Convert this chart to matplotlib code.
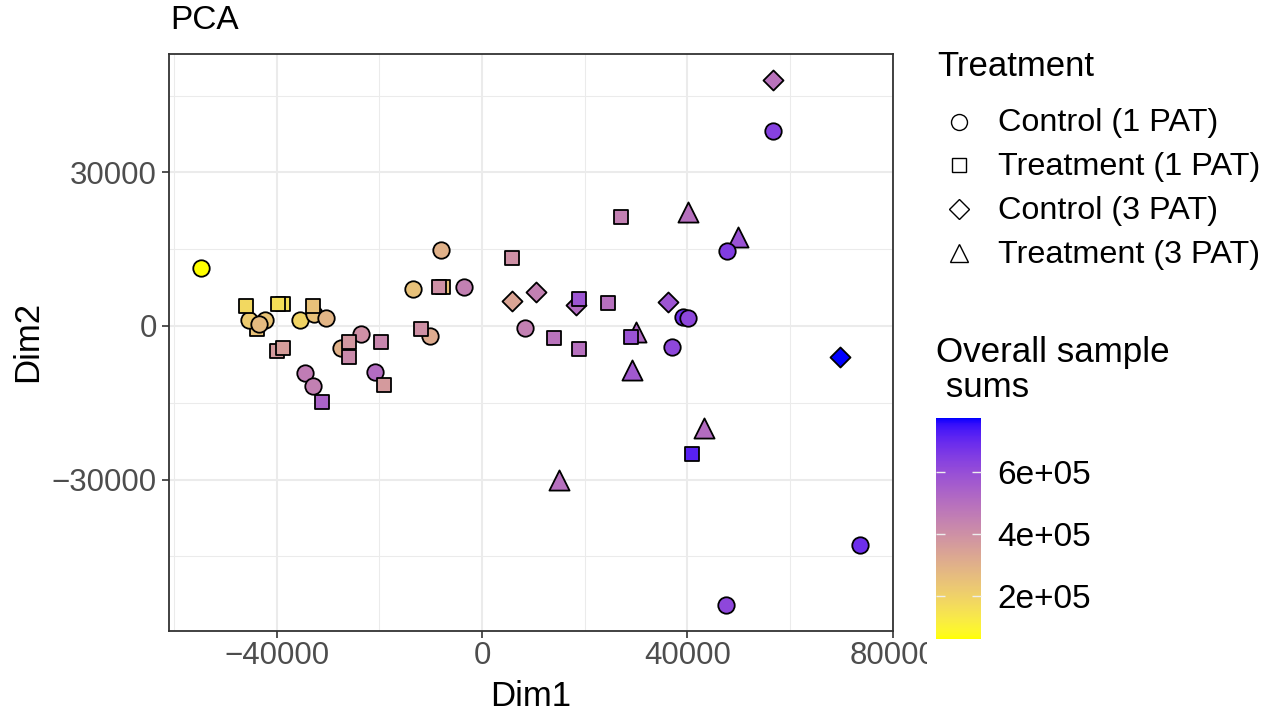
import numpy as np
import matplotlib
matplotlib.use("Agg")
import matplotlib.pyplot as plt
from matplotlib.colors import ListedColormap, Normalize
from matplotlib.lines import Line2D
from matplotlib.patches import Rectangle
from matplotlib.ticker import MultipleLocator
import matplotlib.cm as cm

plt.rcParams['font.family'] = ['Liberation Sans', 'DejaVu Sans']

# ---------------- data (drawing order) ----------------
groups = ["Control (1 PAT)", "Treatment (1 PAT)", "Control (3 PAT)", "Treatment (3 PAT)"]

# Treatment (3 PAT)
t3_dim1 = [40010, 49930, 29970, 29120, 43260, 14910]
t3_dim2 = [22200, 17340, -1170, -8570, -19990, -30190]
t3_sums = [500000, 590000, 520000, 570000, 510000, 500000]

# Control (3 PAT)
c3_dim1 = [5760, 10510, 18290, 36190, 56750, 69730]
c3_dim2 = [4810, 6620, 4030, 4680, 48000, -6040]
c3_sums = [340000, 450000, 510000, 580000, 490000, 774000]

# Control (1 PAT)
c1_dim1 = [-54680, -45420, -42360, -43530, -35550, -32830, -30360, -8110, -13370,
           -3580, 8370, -27440, -23550, -34450, -32890, -20900, -10120, 56750,
           47790, 39170, 40090, 36970, 73620, 47410]
c1_dim2 = [11300, 1110, 1110, 470, 1110, 2280, 1560, 14880, 7150,
           7600, -390, -4400, -1480, -9270, -11690, -8960, -1950, 37990,
           14610, 1750, 1640, -4090, -42720, -54470]
c1_sums = [62000, 220000, 240000, 270000, 190000, 250000, 290000, 300000, 250000,
           450000, 450000, 300000, 400000, 460000, 450000, 510000, 320000, 640000,
           650000, 690000, 620000, 620000, 690000, 620000]

# Treatment (1 PAT)
t1_dim1 = [-43860, -46060, -38800, -39780, -32960, -39970, -38800, -25960, -26020,
           -19650, -31140, -19150, -11870, -7670, -8450, 5760, 27050, 18800,
           24440, 14070, 18800, 28990, 40790]
t1_dim2 = [-640, 3900, 4360, 4360, 3900, -4870, -4400, -3120, -6160,
           -3230, -14860, -11550, -510, 7600, 7600, 13190, 21230, 5340,
           4560, -2340, -4600, -2140, -24990]
t1_sums = [250000, 180000, 160000, 160000, 250000, 370000, 360000, 380000, 420000,
           430000, 540000, 370000, 400000, 250000, 400000, 400000, 450000, 580000,
           500000, 490000, 500000, 590000, 720000]

xticks = [-40000, 0, 40000, 80000]
xticklabels = ["\u221240000", "0", "40000", "80000"]
yticks = [-30000, 0, 30000]
yticklabels = ["\u221230000", "0", "30000"]
cbar_ticks = [200000, 400000, 600000]
cbar_labels = ["2e+05", "4e+05", "6e+05"]

# ---------------- Lab-space gradient (yellow -> blue) ----------------
M = np.array([[0.4124564, 0.3575761, 0.1804375],
              [0.2126729, 0.7151522, 0.0721750],
              [0.0193339, 0.1191920, 0.9503041]])
WHITE = np.array([0.95047, 1.0, 1.08883])
D = 6 / 29


def srgb_to_lab(c):
    c = np.asarray(c, float)
    lin = np.where(c <= 0.04045, c / 12.92, ((c + 0.055) / 1.055) ** 2.4)
    t = (M @ lin) / WHITE
    f = np.where(t > D ** 3, np.cbrt(t), t / (3 * D ** 2) + 4 / 29)
    return np.array([116 * f[1] - 16, 500 * (f[0] - f[1]), 200 * (f[1] - f[2])])


def lab_to_srgb(lab):
    L, a, b = lab
    fy_ = (L + 16) / 116
    f = np.array([fy_ + a / 500, fy_, fy_ - b / 200])
    t = np.where(f > D, f ** 3, 3 * D ** 2 * (f - 4 / 29))
    lin = np.clip(np.linalg.inv(M) @ (t * WHITE), 0, 1)
    c = np.where(lin <= 0.0031308, 12.92 * lin, 1.055 * lin ** (1 / 2.4) - 0.055)
    return np.clip(c, 0, 1)


lab_lo = srgb_to_lab([1, 1, 0])
lab_hi = srgb_to_lab([0, 0, 1])
cmap = ListedColormap([lab_to_srgb(lab_lo + (lab_hi - lab_lo) * t) for t in np.linspace(0, 1, 256)])

all_sums = t3_sums + c3_sums + c1_sums + t1_sums
norm = Normalize(vmin=min(all_sums), vmax=max(all_sums))

# ---------------- figure ----------------
W, H = 1273, 713
fig = plt.figure(figsize=(W / 100, H / 100), dpi=100)


def fx(px):
    return px / W


def fy(py):
    return 1 - py / H


ax = fig.add_axes([fx(168.5), fy(631), fx(893) - fx(168.5), fy(54) - fy(631)])

marker_spec = {
    "Control (1 PAT)": ("o", 140),
    "Treatment (1 PAT)": ("s", 104),
    "Control (3 PAT)": ("D", 104),
    "Treatment (3 PAT)": ("^", 210),
}

layers = [
    ("Treatment (3 PAT)", t3_dim1, t3_dim2, t3_sums),
    ("Control (3 PAT)", c3_dim1, c3_dim2, c3_sums),
    ("Treatment (1 PAT)", t1_dim1[:1], t1_dim2[:1], t1_sums[:1]),
    ("Control (1 PAT)", c1_dim1, c1_dim2, c1_sums),
    ("Treatment (1 PAT)", t1_dim1[1:], t1_dim2[1:], t1_sums[1:]),
]
z = 3
for grp, xs, ys, vs in layers:
    mk, s = marker_spec[grp]
    for x, y, v in zip(xs, ys, vs):
        ax.scatter([x], [y], c=[v], cmap=cmap, norm=norm, marker=mk, s=s,
                   edgecolors="black", linewidths=1.3, zorder=z)
        z += 0.01

ax.margins(x=0.05, y=0.05)

ax.set_xticks(xticks, labels=xticklabels)
ax.set_yticks(yticks, labels=yticklabels)
ax.xaxis.set_minor_locator(MultipleLocator(20000))
ax.yaxis.set_minor_locator(MultipleLocator(15000))
ax.grid(which="major", color="#EBEBEB", linewidth=1.5, zorder=0)
ax.grid(which="minor", color="#EBEBEB", linewidth=0.75, zorder=0)
ax.set_axisbelow(True)
ax.tick_params(which="minor", length=0)
ax.tick_params(which="major", length=5, width=1.2, color="#333333",
               labelcolor="#4D4D4D", labelsize=22.5)
ax.tick_params(axis="x", pad=2)
ax.tick_params(axis="y", pad=3.5)
for sp in ax.spines.values():
    sp.set_color("#333333")
    sp.set_linewidth(1.3)

fig.text(fx(170), fy(29), "PCA", fontsize=24, ha="left", va="baseline")
fig.text(fx(530.7), fy(706), "Dim1", fontsize=25, ha="center", va="baseline")
fig.text(fx(28), fy(341), "Dim2", fontsize=25, ha="center", va="center", rotation=90)

# white legend background clipping the last x tick label (as in reference)
fig.add_artist(Rectangle((fx(927), fy(685)), fx(1273) - fx(927), fy(640) - fy(685),
                         transform=fig.transFigure, facecolor="white",
                         edgecolor="none", zorder=2))

# ---------------- shape legend ----------------
fig.text(fx(937), fy(75.7), "Treatment", fontsize=25, ha="left", va="baseline")
leg_marker_size = {"o": 11.5, "s": 9.5, "D": 9.8, "^": 13}
row_y = [121.7, 165.4, 209.1, 252.8]
for grp, yy in zip(groups, row_y):
    mk = marker_spec[grp][0]
    fig.add_artist(Line2D([fx(959)], [fy(yy)], transform=fig.transFigure,
                          marker=mk, markersize=leg_marker_size[mk],
                          markerfacecolor="white", markeredgecolor="black",
                          markeredgewidth=1.0, linestyle="none"))
    fig.text(fx(998), fy(yy + 9.8), grp, fontsize=23.3, ha="left", va="baseline")

# ---------------- colour bar ----------------
fig.text(fx(936), fy(397), "Overall sample\n sums", fontsize=25.2, ha="left",
         va="baseline", linespacing=1.09)
cax = fig.add_axes([fx(936), fy(639), fx(981) - fx(936), fy(418.3) - fy(639)])
cax.set_zorder(5)
cb = fig.colorbar(cm.ScalarMappable(norm=norm, cmap=cmap), cax=cax)
cb.outline.set_visible(False)
cb.set_ticks(cbar_ticks, labels=cbar_labels)
cax.tick_params(direction="in", left=True, right=True, length=6.5, width=1.0,
                color="#EEEEEE", labelsize=24, pad=12, labelcolor="black")

fig.savefig("out.png", dpi=100)
